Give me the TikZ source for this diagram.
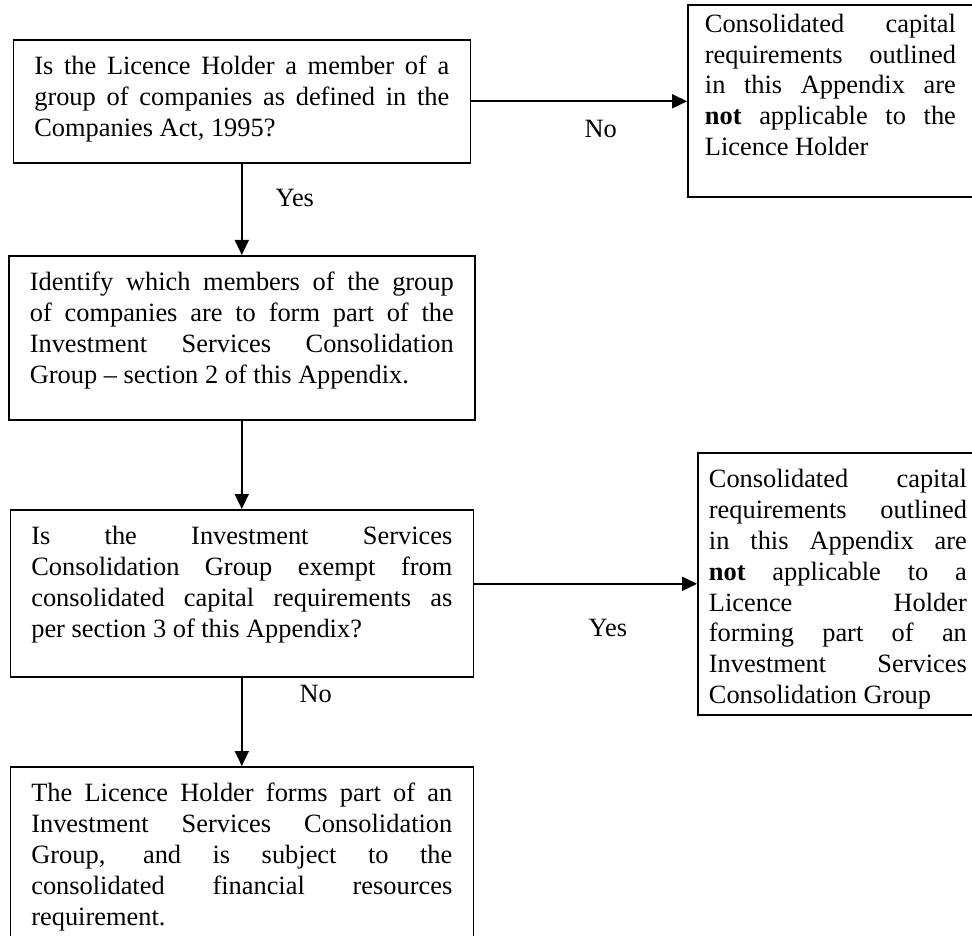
\documentclass[tikz,border=0pt]{standalone}
\usepackage{fontspec}
\setmainfont{Liberation Serif}
\usetikzlibrary{positioning,arrows.meta}
\newcommand{\fullline}[1]{\makebox[\linewidth][s]{\spaceskip=0pt\xspaceskip=0pt #1}}

\begin{document}
\begin{tikzpicture}[
    x=0.5pt, y=-0.5pt,
    every node/.style={font=\fontsize{13.2}{15.4}\selectfont},
    box/.style={rectangle, draw, line width=0.8pt, inner ysep=0pt, align=justify, text height=17.5pt},
    leftbox/.style={box, text width=210.5pt, inner xsep=10.5pt},
    lbl/.style={inner sep=0pt},
    arr/.style={line width=0.8pt, -{Triangle[length=7.5pt, width=7pt]}}
]
    \useasboundingbox (0,0) rectangle (972,935);
    \clip (0,0) rectangle (972,935);

    % Main column
    \node[leftbox, text width=207.5pt, text depth=44pt, anchor=north west] (member) at (12.5,39)
        {\fullline{Is the Licence Holder a member of a}\\
         \fullline{group of companies as defined in the}\\
         Companies Act, 1995?};
    \node[leftbox, text width=212pt, text depth=64.5pt, below=45.7pt of member] (identify)
        {\fullline{Identify which members of the group}\\
         \fullline{of companies are to form part of the}\\
         \fullline{Investment Services Consolidation}\\
         Group – section 2 of this Appendix.};
    \node[leftbox, text depth=66pt, below=44.2pt of identify] (exempt)
        {\fullline{Is the Investment Services}\\
         \fullline{Consolidation Group exempt from}\\
         \fullline{consolidated capital requirements as}\\
         per section 3 of this Appendix?};
    \node[leftbox, text depth=95pt, below=44.2pt of exempt] (subject)
        {\fullline{The Licence Holder forms part of an}\\
         \fullline{Investment Services Consolidation}\\
         \fullline{Group, and is subject to the}\\
         \fullline{consolidated financial resources}\\
         requirement.};

    % Outcomes on the right
    \node[box, text width=125.5pt, inner xsep=8.5pt, text height=13.5pt, text depth=82.5pt,
          right=108pt of member] (notapp)
        {\fullline{Consolidated capital}\\
         \fullline{requirements outlined}\\
         \fullline{in this Appendix are}\\
         \fullline{\textbf{not} applicable to the}\\
         Licence Holder};
    \node[box, text width=129pt, inner xsep=5.5pt, text depth=113.5pt,
          right=111.5pt of exempt, yshift=4.75pt] (notappgroup)
        {\fullline{Consolidated capital}\\
         \fullline{requirements outlined}\\
         \fullline{in this Appendix are}\\
         \fullline{\textbf{not} applicable to a}\\
         \fullline{Licence Holder}\\
         \fullline{forming part of an}\\
         \fullline{Investment Services}\\
         Consolidation Group};

    % Edges
    \draw[arr] (member) -- node[lbl, pos=0.38, right=16.5pt] {Yes} (identify);
    \draw[arr] (notapp.west -| member.east) -- node[lbl, pos=0.6, below=9pt] {No} (notapp.west);
    \draw[arr] (identify) -- (exempt);
    \draw[arr] (notappgroup.west -| exempt.east) -- node[lbl, pos=0.6, below=17.5pt] {Yes} (notappgroup.west);
    \draw[arr] (exempt) -- node[lbl, pos=0.19, right=28.5pt] {No} (subject);
\end{tikzpicture}
\end{document}
